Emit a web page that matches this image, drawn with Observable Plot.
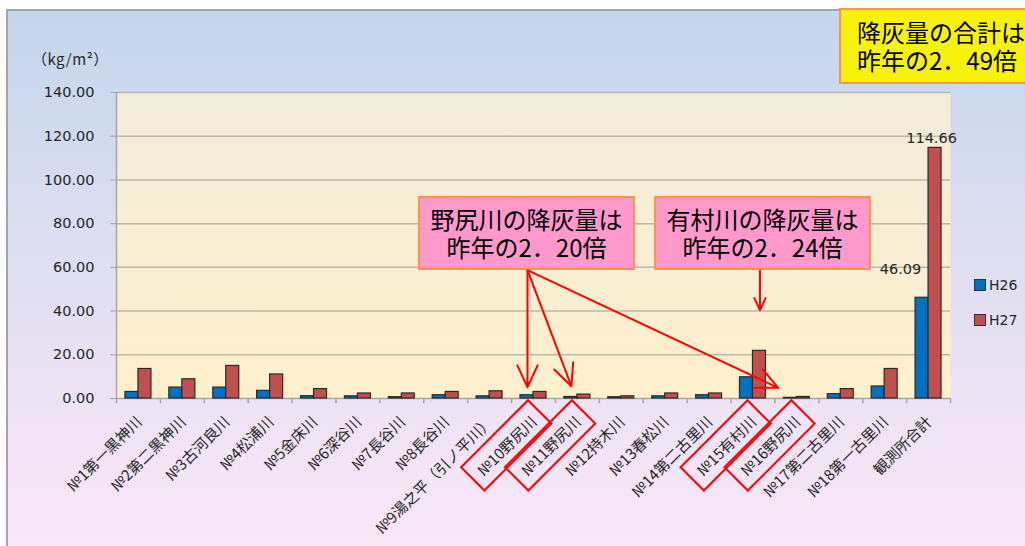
<!DOCTYPE html>
<html>
<head>
<meta charset="utf-8">
<script src="https://cdn.jsdelivr.net/npm/d3@7"></script>
<script src="https://cdn.jsdelivr.net/npm/@observablehq/plot@0.6"></script>
<style>
  body { margin: 0; background: #fff; font-family: "Noto Sans CJK JP", "Noto Sans", sans-serif; }
  #wrap { position: relative; width: 1025px; height: 546px; overflow: hidden; background: #fff; }
  #frame { position: absolute; left: 6px; top: 9px; width: 1040px; height: 560px;
    border-left: 2px solid #A5A5A5; border-top: 2px solid #A5A5A5;
    background: linear-gradient(#C4D6EC 0%, #DCDDF1 40%, #EEE3F5 70%, #FBE7F8 100%); }
  #chart { position: absolute; left: 0; top: 0; }
  .box { position: absolute; box-sizing: border-box; border: 2px solid #F79646; color: #000;
    font-family: "Noto Sans CJK JP", sans-serif; }
  .callout { background: #FF99CC; font-size: 24px; line-height: 28px; text-align: center;
    display: flex; flex-direction: column; justify-content: center; }
  .titlebox { background: #F7F20C; font-size: 24px; line-height: 28px; padding-left: 16px;
    display: flex; flex-direction: column; justify-content: center; }
  .unit { position: absolute; left: 32px; top: 48px; font-size: 15px; color: #262626;
    font-family: "Noto Sans CJK JP", sans-serif; letter-spacing: 0.5px; }
  .leg { position: absolute; left: 974px; font-size: 14px; color: #262626; display: flex; align-items: center;
    font-family: "DejaVu Sans", sans-serif; }
  .sw { display: inline-block; width: 10px; height: 10px; border: 1px solid #333; margin-right: 3px; }
</style>
</head>
<body>
<svg width="0" height="0" style="position:absolute">
  <defs>
    <linearGradient id="plotBg" x1="0" y1="0" x2="0" y2="1">
      <stop offset="0%" stop-color="#F2ECDB"/>
      <stop offset="100%" stop-color="#FFF0CC"/>
    </linearGradient>
  </defs>
</svg>
<div id="wrap">
  <div id="frame"></div>
  <div id="chart"></div>
  <div class="unit">（kg/m²）</div>
  <div class="box titlebox" style="left:839px;top:8px;width:200px;height:76px;">
    <div>降灰量の合計は</div><div>昨年の2．49倍</div>
  </div>
  <div class="box callout" style="left:418px;top:196px;width:217px;height:74px;">
    <div>野尻川の降灰量は</div><div>昨年の2．20倍</div>
  </div>
  <div class="box callout" style="left:654px;top:196px;width:217px;height:74px;">
    <div>有村川の降灰量は</div><div>昨年の2．24倍</div>
  </div>
  <div id="legend"></div>
</div>
<script>
const categories = [
  "№1第一黒神川", "№2第二黒神川", "№3古河良川", "№4松浦川", "№5金床川", "№6深谷川",
  "№7長谷川", "№8長谷川", "№9湯之平（引ノ平川）", "№10野尻川", "№11野尻川", "№12持木川",
  "№13春松川", "№14第二古里川", "№15有村川", "№16野尻川", "№17第二古里川", "№18第一古里川", "観測所合計"
];
const h26 = [3.0, 5.0, 5.0, 3.5, 1.05, 1.0, 0.6, 1.5, 1.0, 1.5, 0.7, 0.6, 1.0, 1.5, 9.7, 0.3, 2.0, 5.5, 46.09];
const h27 = [13.5, 8.8, 14.9, 11.0, 4.3, 2.3, 2.3, 3.0, 3.3, 3.0, 1.8, 1.0, 2.3, 2.3, 21.8, 0.7, 4.3, 13.5, 114.66];
const seriesNames = ["H26", "H27"];
const seriesColors = ["#0070C0", "#C0504D"];
const yTicks = [0, 20, 40, 60, 80, 100, 120, 140];
const highlighted = ["№10野尻川", "№11野尻川", "№15有村川", "№16野尻川"];
const valueLabels = [
  {cat: "観測所合計", series: "H26", value: 46.09},
  {cat: "観測所合計", series: "H27", value: 114.66}
];
// annotation arrows (data space: category, value)
const nojiriArrows = [
  {from: "№10野尻川", y1: 58.7, to: "№10野尻川", y2: 5.2},
  {from: "№10野尻川", y1: 58.7, to: "№11野尻川", y2: 5.6}
];
const nojiriArrowFar = [{from: "№10野尻川", y1: 58.7, to: "№16野尻川", y2: 2.15}];
const arimuraArrow = [{from: "№15有村川", y1: 58.7, to: "№15有村川", y2: 40.4}];

const rows26 = categories.map((c, i) => ({cat: c, value: h26[i]}));
const rows27 = categories.map((c, i) => ({cat: c, value: h27[i]}));

const W = 1025, H = 546, mL = 116, mR = 75, mT = 92, mB = 148;
const bw = (W - mL - mR) / categories.length;
const barW = 13;
const side = (bw - 2 * barW) / 2;
const arrowStyle = {stroke: "#FF0000", strokeWidth: 2, headLength: 18, headAngle: 50};
const numFont = "\"DejaVu Sans\", sans-serif";

const chart = Plot.plot({
  width: W, height: H,
  marginLeft: mL, marginRight: mR, marginTop: mT, marginBottom: mB,
  style: {background: "transparent", overflow: "visible", fontFamily: "\"Noto Sans CJK JP\", sans-serif"},
  x: {domain: categories, padding: 0, round: false, axis: null},
  y: {domain: [0, 140], axis: null},
  marks: [
    Plot.frame({fill: "url(#plotBg)", stroke: null}),
    Plot.gridY(yTicks.filter(d => d > 0), {stroke: "#BCB7AB", strokeOpacity: 1, strokeWidth: 1.5}),
    Plot.ruleY([0], {stroke: "#A6A6A6", strokeWidth: 1.5}),
    Plot.ruleX([categories[0]], {x: d => d, y1: 0, y2: 140, dx: -bw / 2, stroke: "#A6A6A6", strokeWidth: 1.5}),
    Plot.ruleX(categories, {x: d => d, y1: 0, y2: -2.4, dx: -bw / 2, stroke: "#A6A6A6", strokeWidth: 1.5}),
    Plot.ruleX([categories[categories.length - 1]], {x: d => d, y1: 0, y2: -2.4, dx: bw / 2, stroke: "#A6A6A6", strokeWidth: 1.5}),
    Plot.axisY({ticks: yTicks, tickFormat: d => d.toFixed(2), tickSize: 6, tickPadding: 16, fontSize: 14.5,
      stroke: "#A6A6A6", fill: "#262626", fontFamily: numFont}),
    Plot.axisX({tickRotate: -45, tickSize: 0, tickPadding: 12, dx: 1, dy: 9, fontSize: 15, fill: "#262626",
      fontFamily: "\"Noto Sans CJK JP\", sans-serif"}),
    Plot.barY(rows26, {x: "cat", y: "value", fill: seriesColors[0], stroke: "#2A2A2A", strokeWidth: 1.2,
      insetLeft: side, insetRight: side + barW}),
    Plot.barY(rows27, {x: "cat", y: "value", fill: seriesColors[1], stroke: "#2A2A2A", strokeWidth: 1.2,
      insetLeft: side + barW, insetRight: side}),
    Plot.text(valueLabels.filter(d => d.series === "H27"), {x: "cat", y: "value", text: d => d.value.toFixed(2),
      dx: 3, dy: -5, lineAnchor: "bottom", fontSize: 14.5, fill: "#262626", fontFamily: numFont}),
    Plot.text(valueLabels.filter(d => d.series === "H26"), {x: "cat", y: "value", text: d => d.value.toFixed(2),
      dx: -28, dy: -24, lineAnchor: "bottom", fontSize: 14.5, fill: "#262626", fontFamily: numFont}),
    Plot.arrow(nojiriArrows, {x1: "from", y1: "y1", x2: "to", y2: "y2", dx: -6, ...arrowStyle}),
    Plot.arrow(nojiriArrowFar, {x1: "from", y1: "y1", x2: "to", y2: "y2", dx: -6, insetEnd: 14, ...arrowStyle}),
    Plot.arrow(arimuraArrow, {x1: "from", y1: "y1", x2: "to", y2: "y2", dx: 7, ...arrowStyle})
  ]
});
document.getElementById("chart").appendChild(chart);

// red outlines around highlighted tick labels
d3.select(chart).selectAll('g[aria-label="x-axis tick label"] text').each(function () {
  const t = this.textContent;
  if (!highlighted.includes(t)) return;
  const b = this.getBBox();
  const px = 9, py = 6;
  d3.select(this.parentNode).append("rect")
    .attr("x", b.x - px).attr("y", b.y - py)
    .attr("width", b.width + 2 * px).attr("height", b.height + 2 * py)
    .attr("transform", this.getAttribute("transform"))
    .attr("fill", "none").attr("stroke", "#FF0000").attr("stroke-width", 2);
});

// legend
const legend = document.getElementById("legend");
seriesNames.forEach((s, i) => {
  const d = document.createElement("div");
  d.className = "leg";
  d.style.top = (277 + i * 35) + "px";
  d.innerHTML = `<span class="sw" style="background:${seriesColors[i]}"></span>${s}`;
  legend.appendChild(d);
});
</script>
</body>
</html>
